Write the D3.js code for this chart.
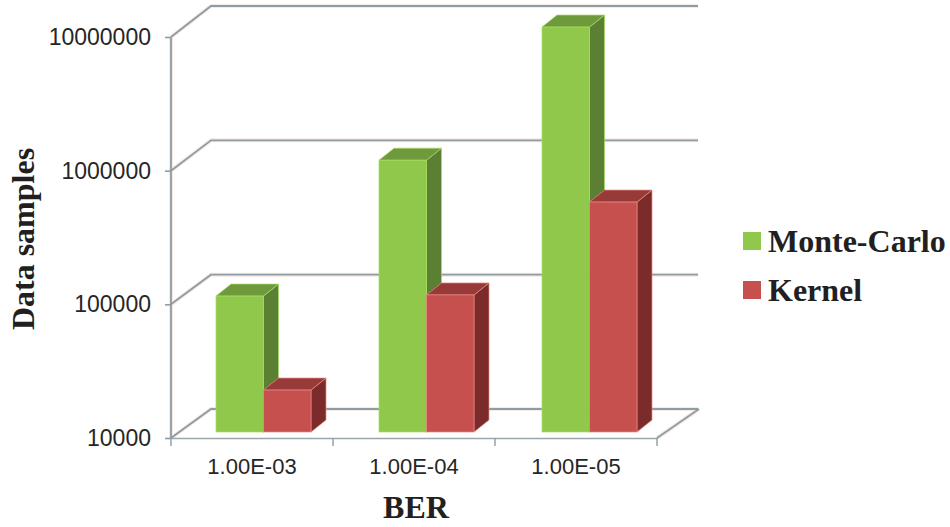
<!DOCTYPE html>
<html><head><meta charset="utf-8">
<script src="https://cdn.jsdelivr.net/npm/d3@7"></script>
<style>html,body{margin:0;padding:0;background:#fff}svg{display:block}</style>
</head><body><svg id="c" width="950" height="527"></svg>
<script>
const categories = ["1.00E-03","1.00E-04","1.00E-05"];
const seriesNames = ["Monte-Carlo","Kernel"];
const monteCarlo = [104000,1080000,10700000];
const kernel = [20600,106000,525000];
const yTicks = [10000,100000,1000000,10000000];
const frontColors = ["#8fc84b","#c5504d"];
const sideColors = ["#5b7f33","#7c2b2b"];
const topColors = ["#6f9a3b","#973a38"];
const edgeColors = ["#a6dc62","#e88a84"];

const svg = d3.select("#c");
const plotLeft=171,plotRight=657,plotBase=438,plotTop=37;
const wallDx=40, barDy=-6, sideDx=15,sideDy=-12;
const xScale = d3.scaleBand().domain(categories).range([plotLeft,plotRight]);
// the bars sit inside the depth of the chart, so perspective spreads them slightly wider than the axis
const xBars = d3.scaleBand().domain(categories).range([plotLeft+11,plotRight+14]);
const yScale = d3.scaleLog().domain([1e4,1e7]).range([plotBase,plotTop]);
const yBack = d3.scaleLog().domain([1e4,1e7]).range([409,6]);
const inner = d3.scaleBand().domain(seriesNames).range([0,95]);
const gridCol="#8b9da6", halo="#f9e9e3";

const g = svg.append("g");
// grid, drawn with a pale halo under each line
function wallLines(gg,col,w){
  gg.selectAll("path.wall").data(yTicks).join("path").attr("class","wall")
    .attr("d",d=>{
      const bx=plotLeft+wallDx;
      return `M${plotLeft},${yScale(d)}L${bx},${yBack(d)}L${plotRight+wallDx+1},${yBack(d)}`;
    }).attr("fill","none").attr("stroke",col).attr("stroke-width",w);
  gg.append("path").attr("d",`M${plotRight},${plotBase}L${plotRight+wallDx+2},${yBack(1e4)}`)
    .attr("fill","none").attr("stroke",col).attr("stroke-width",w);
  gg.append("path").attr("d",`M${plotLeft},${plotTop}L${plotLeft},${plotBase}`)
    .attr("fill","none").attr("stroke",col).attr("stroke-width",w);
}
wallLines(g.append("g"),halo,4);
wallLines(g.append("g"),gridCol,1.8);

// bars
const rows = categories.map((c,i)=>seriesNames.map((s,k)=>({c,s,k,v:[monteCarlo,kernel][k][i]})));
const barBase = plotBase+barDy;
const bw = inner.bandwidth();
const pad = (xBars.bandwidth()-95)/2;
rows.forEach(row=>{
  row.forEach(d=>{
    const x0=xBars(d.c)+pad+inner(d.s), x1=x0+bw, yt=yScale(d.v)+barDy;
    const b=g.append("g");
    b.append("path").attr("d",`M${x1},${yt}L${x1+sideDx},${yt+sideDy}L${x1+sideDx},${barBase+sideDy}L${x1},${barBase}Z`)
      .attr("fill",sideColors[d.k]).attr("stroke",edgeColors[d.k]).attr("stroke-width",0.7);
    b.append("path").attr("d",`M${x0},${yt}L${x0+sideDx},${yt+sideDy}L${x1+sideDx},${yt+sideDy}L${x1},${yt}Z`)
      .attr("fill",topColors[d.k]).attr("stroke",edgeColors[d.k]).attr("stroke-width",0.7);
    b.append("rect").attr("x",x0).attr("y",yt).attr("width",bw).attr("height",barBase-yt)
      .attr("fill",frontColors[d.k]).attr("stroke",edgeColors[d.k]).attr("stroke-width",0.7);
  });
});

// axes
const font="'Liberation Sans',Arial,sans-serif", serif="'Liberation Serif','Times New Roman',serif";
const yAxis = d3.axisLeft(yScale).tickValues(yTicks).tickFormat(d3.format("d")).tickSize(6).tickPadding(14);
const ya = svg.append("g").attr("transform",`translate(${plotLeft},0)`).call(yAxis);
ya.select(".domain").remove();
const xAxis = d3.axisBottom(xScale).tickSize(0).tickPadding(20);
const xa = svg.append("g").attr("transform",`translate(0,${plotBase})`).call(xAxis);
xa.select(".domain").attr("stroke","#9aa6aa").attr("stroke-width",1.4);
// category boundary ticks
xa.selectAll("line.b").data([...categories.map(c=>xScale(c)),plotRight]).join("line").attr("class","b")
  .attr("x1",d=>d).attr("x2",d=>d).attr("y1",0).attr("y2",8).attr("stroke","#8b9da6").attr("stroke-width",1.4);
ya.selectAll("line").attr("stroke","#8b9da6").attr("stroke-width",1.6);
ya.selectAll("text").attr("font-family",font).attr("font-size",23).attr("fill","#262626");
xa.selectAll("text").attr("font-family",font).attr("font-size",22).attr("fill","#262626");

// titles
svg.append("text").attr("x",416).attr("y",518).attr("text-anchor","middle")
  .attr("font-family",serif).attr("font-size",32).attr("font-weight","bold").attr("fill","#231f20").text("BER");
svg.append("text").attr("transform","translate(34,239) rotate(-90)").attr("text-anchor","middle")
  .attr("font-family",serif).attr("font-size",32).attr("font-weight","bold").attr("fill","#231f20").text("Data samples");

// legend
const leg = svg.append("g").selectAll("g").data(seriesNames).join("g")
  .attr("transform",(d,i)=>`translate(743,${232+i*49})`);
leg.append("rect").attr("width",18).attr("height",18).attr("fill",(d,i)=>frontColors[i]);
leg.append("text").attr("x",25).attr("y",20).attr("font-family",serif).attr("font-size",32)
  .attr("font-weight","bold").attr("fill","#231f20").text(d=>d);
</script></body></html>
